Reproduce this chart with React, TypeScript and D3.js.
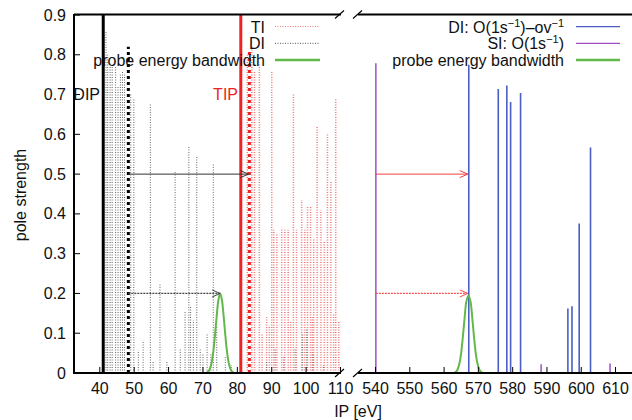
import React, { useEffect, useRef } from 'react';
import * as d3 from 'd3';

// low IP window: double (DI) and triple (TI) ionisation lines, [IP eV, pole strength]
const diSticks: [number, number][] = [
  [41.8, 0.86], [42.3, 0.8], [43.0, 0.77], [43.6, 0.77], [44.6, 0.77], [45.3, 0.72],
  [46.0, 0.75], [46.6, 0.76], [47.2, 0.75], [49.0, 0.7], [49.9, 0.69], [51.2, 0.057],
  [52.6, 0.082], [54.7, 0.677], [55.5, 0.03], [57.5, 0.225], [59.5, 0.03], [61.9, 0.505],
  [63.4, 0.06], [64.8, 0.157], [65.9, 0.57], [66.4, 0.17], [67.2, 0.133], [68.2, 0.545],
  [69.2, 0.06], [70.0, 0.05], [71.2, 0.1], [72.3, 0.05], [73.0, 0.527], [74.0, 0.12],
  [76.5, 0.04], [78.2, 0.02], [88.5, 0.03], [91.0, 0.06], [93.5, 0.04], [96.8, 0.06],
  [99.0, 0.1], [100.2, 0.11], [102.0, 0.05], [105.0, 0.02],
];
const tiSticks: [number, number][] = [
  [82.9, 0.8], [84.2, 0.82], [85.0, 0.76], [86.4, 0.78], [87.2, 0.1], [88.5, 0.14],
  [89.3, 0.12], [90.0, 0.76], [90.6, 0.36], [91.5, 0.35], [92.9, 0.365], [93.8, 0.36],
  [94.8, 0.36], [95.5, 0.13], [96.3, 0.7], [97.2, 0.36], [98.7, 0.435], [99.6, 0.36],
  [100.4, 0.42], [101.3, 0.42], [101.8, 0.14], [102.2, 0.34], [103.2, 0.62], [104.3, 0.41],
  [105.3, 0.33], [106.2, 0.6], [107.2, 0.48], [108.0, 0.15], [108.6, 0.69], [109.5, 0.13],
  [110.5, 0.15],
];
const dipIP = 41.0;
const tipIP = 81.0;
const diOnset: [number, number] = [48.3, 0.82];
const tiOnset: [number, number] = [83.5, 0.81];
const probeLow: [number, number][] = [
  [71, 0.001], [71.5, 0.003], [72, 0.01], [72.5, 0.025], [73, 0.053], [73.5, 0.095],
  [74, 0.144], [74.5, 0.184], [75, 0.2], [75.5, 0.184], [76, 0.144], [76.5, 0.095],
  [77, 0.053], [77.5, 0.025], [78, 0.01], [78.5, 0.003], [79, 0.001],
];

// high IP window: core ionisation lines
const coreDiSticks: [number, number][] = [
  [567.2, 0.775], [575.8, 0.714], [578.3, 0.723], [579.4, 0.681], [582.3, 0.704],
  [596.1, 0.162], [597.3, 0.168], [599.4, 0.376], [602.7, 0.567],
];
const coreSiSticks: [number, number][] = [[540.1, 0.779], [588.3, 0.022], [608.4, 0.024]];
const probeHigh: [number, number][] = [
  [563, 0.001], [563.5, 0.003], [564, 0.01], [564.5, 0.025], [565, 0.052], [565.5, 0.093],
  [566, 0.14], [566.5, 0.18], [567.1, 0.195], [567.7, 0.18], [568.2, 0.14], [568.7, 0.093],
  [569.2, 0.052], [569.7, 0.025], [570.2, 0.01], [570.7, 0.003], [571.2, 0.001],
];

const leftTicks = [40, 50, 60, 70, 80, 90, 100, 110];
const rightTicks = [540, 550, 560, 570, 580, 590, 600, 610];
const yTicks = [0, 0.1, 0.2, 0.3, 0.4, 0.5, 0.6, 0.7, 0.8, 0.9];

const GREEN = '#62b94a';
const RED = '#ee2222';
const BLUE = '#4a5ec4';
const PURPLE = '#a04fc4';

export default function App() {
  const svgRef = useRef<SVGSVGElement>(null);

  useEffect(() => {
    const svg = d3.select(svgRef.current);
    svg.selectAll('*').remove();
    const font = 'Liberation Sans, Arial, sans-serif';

    const xL = d3.scaleLinear().domain([32.5, 111.3]).range([74, 345]);
    const xR = d3.scaleLinear().domain([534.6, 614.8]).range([357, 632]);
    const y = d3.scaleLinear().domain([0, 0.9]).range([373, 15]);

    const defs = svg.append('defs');
    defs.append('clipPath').attr('id', 'clipL')
      .append('rect').attr('x', 75).attr('y', 0).attr('width', 266).attr('height', 373);
    defs.append('clipPath').attr('id', 'clipR')
      .append('rect').attr('x', 358).attr('y', 0).attr('width', 274).attr('height', 373);

    const left = svg.append('g').attr('clip-path', 'url(#clipL)');
    const right = svg.append('g').attr('clip-path', 'url(#clipR)');

    // sticks
    left.selectAll('.ti').data(tiSticks).enter().append('line')
      .attr('x1', d => xL(d[0])).attr('x2', d => xL(d[0]))
      .attr('y1', y(0)).attr('y2', d => y(d[1]))
      .attr('stroke', '#f07a7a').attr('stroke-width', 1.5).attr('stroke-dasharray', '1 1.5');
    left.selectAll('.di').data(diSticks).enter().append('line')
      .attr('x1', d => xL(d[0])).attr('x2', d => xL(d[0]))
      .attr('y1', y(0)).attr('y2', d => y(d[1]))
      .attr('stroke', '#666').attr('stroke-width', 1).attr('stroke-dasharray', '1 1.5');

    // ionisation potentials
    left.append('line').attr('x1', xL(dipIP)).attr('x2', xL(dipIP)).attr('y1', y(0)).attr('y2', y(0.9))
      .attr('stroke', '#000').attr('stroke-width', 3);
    left.append('line').attr('x1', xL(tipIP)).attr('x2', xL(tipIP)).attr('y1', y(0)).attr('y2', y(0.9))
      .attr('stroke', RED).attr('stroke-width', 3);
    left.append('line').attr('x1', xL(diOnset[0])).attr('x2', xL(diOnset[0]))
      .attr('y1', y(0)).attr('y2', y(diOnset[1]))
      .attr('stroke', '#000').attr('stroke-width', 3).attr('stroke-dasharray', '3 3');
    left.append('line').attr('x1', xL(tiOnset[0])).attr('x2', xL(tiOnset[0]))
      .attr('y1', y(0)).attr('y2', y(tiOnset[1]))
      .attr('stroke', RED).attr('stroke-width', 3).attr('stroke-dasharray', '3 3');

    right.selectAll('.si').data(coreSiSticks).enter().append('line')
      .attr('x1', d => xR(d[0])).attr('x2', d => xR(d[0]))
      .attr('y1', y(0)).attr('y2', d => y(d[1]))
      .attr('stroke', PURPLE).attr('stroke-width', 1.5);
    right.selectAll('.cdi').data(coreDiSticks).enter().append('line')
      .attr('x1', d => xR(d[0])).attr('x2', d => xR(d[0]))
      .attr('y1', y(0)).attr('y2', d => y(d[1]))
      .attr('stroke', BLUE).attr('stroke-width', 1.6);

    // probe bandwidth
    const curveL = d3.line<[number, number]>().x(d => xL(d[0])).y(d => y(d[1])).curve(d3.curveCatmullRom);
    const curveR = d3.line<[number, number]>().x(d => xR(d[0])).y(d => y(d[1])).curve(d3.curveCatmullRom);
    left.append('path').attr('d', curveL(probeLow)).attr('fill', 'none').attr('stroke', GREEN).attr('stroke-width', 2);
    right.append('path').attr('d', curveR(probeHigh)).attr('fill', 'none').attr('stroke', GREEN).attr('stroke-width', 2);

    // arrows
    const arrow = (g: any, x1: number, x2: number, yy: number, color: string, dashed: boolean) => {
      g.append('line').attr('x1', x1).attr('x2', x2).attr('y1', yy).attr('y2', yy)
        .attr('stroke', color).attr('stroke-width', dashed ? 1.3 : 1)
        .attr('stroke-dasharray', dashed ? '2 1' : null);
      g.append('polyline')
        .attr('points', `${x2 - 8},${yy - 3.5} ${x2},${yy} ${x2 - 8},${yy + 3.5}`)
        .attr('fill', 'none').attr('stroke', color).attr('stroke-width', 1);
    };
    arrow(svg, xL(diOnset[0]), xL(tiOnset[0]) - 1, y(0.5), '#333', false);
    arrow(svg, xL(diOnset[0]), xL(75), y(0.2), '#444', true);
    arrow(svg, xR(540.1), xR(567.2) - 1, y(0.5), '#f04040', false);
    arrow(svg, xR(540.1), xR(567.2) - 1, y(0.2), '#f45050', true);

    // frame
    const frame = svg.append('g').attr('stroke', '#000').attr('stroke-width', 2).attr('fill', 'none');
    frame.append('line').attr('x1', 74).attr('x2', 74).attr('y1', 14).attr('y2', 374);
    [14.5, 373].forEach(yy => {
      frame.append('line').attr('x1', 74).attr('x2', 341).attr('y1', yy).attr('y2', yy);
      frame.append('line').attr('x1', 358).attr('x2', 632).attr('y1', yy).attr('y2', yy);
      frame.append('line').attr('x1', 335).attr('x2', 344).attr('y1', yy + 4).attr('y2', yy - 4).attr('stroke-width', 1.2);
      frame.append('line').attr('x1', 353).attr('x2', 362).attr('y1', yy + 4).attr('y2', yy - 4).attr('stroke-width', 1.2);
    });

    const ticks = svg.append('g').attr('stroke', '#000').attr('stroke-width', 1);
    yTicks.forEach(t => {
      ticks.append('line').attr('x1', 74).attr('x2', 80).attr('y1', y(t)).attr('y2', y(t));
    });
    leftTicks.forEach(t => {
      ticks.append('line').attr('x1', xL(t)).attr('x2', xL(t)).attr('y1', 373).attr('y2', 367);
    });
    rightTicks.forEach(t => {
      ticks.append('line').attr('x1', xR(t)).attr('x2', xR(t)).attr('y1', 373).attr('y2', 367);
    });

    const text = svg.append('g').attr('font-family', font).attr('font-size', 16).attr('fill', '#111');
    yTicks.forEach(t => {
      text.append('text').attr('x', 66).attr('y', y(t) + 5.5).attr('text-anchor', 'end')
        .text(t === 0 ? '0' : t.toFixed(1));
    });
    leftTicks.forEach(t => {
      text.append('text').attr('x', xL(t)).attr('y', 394).attr('text-anchor', 'middle').text(t);
    });
    rightTicks.forEach(t => {
      text.append('text').attr('x', xR(t)).attr('y', 394).attr('text-anchor', 'middle').text(t);
    });
    text.append('text').attr('x', 358).attr('y', 417).attr('text-anchor', 'middle').text('IP [eV]');
    text.append('text').attr('transform', 'translate(26,195) rotate(-90)')
      .attr('text-anchor', 'middle').text('pole strength');
    text.append('text').attr('x', 100).attr('y', 99.5).attr('text-anchor', 'end').text('DIP');
    text.append('text').attr('x', 238).attr('y', 99.5).attr('text-anchor', 'end')
      .attr('fill', RED).text('TIP');

    // legends
    const legL = [
      { label: 'TI', color: '#f07a7a', width: 1, dash: '1 1.5' },
      { label: 'DI', color: '#555', width: 1, dash: '1 1.5' },
      { label: 'probe energy bandwidth', color: GREEN, width: 2.5, dash: null },
    ];
    legL.forEach((d, i) => {
      const yy = 26.5 + i * 16.8;
      text.append('text').attr('x', 265).attr('y', yy + 6).attr('text-anchor', 'end').text(d.label);
      svg.append('line').attr('x1', 275).attr('x2', 320).attr('y1', yy).attr('y2', yy)
        .attr('stroke', d.color).attr('stroke-width', d.width).attr('stroke-dasharray', d.dash);
    });

    const legR = [
      { parts: [['DI: O(1s', 0], ['\u22121', 1], [')\u2013ov', -1], ['\u22121', 1]], color: BLUE },
      { parts: [['SI: O(1s', 0], ['\u22121', 1], [')', -1]], color: PURPLE },
      { parts: [['probe energy bandwidth', 0]], color: GREEN },
    ];
    legR.forEach((d, i) => {
      const yy = 26.7 + i * 16.7;
      const t = text.append('text').attr('x', 564).attr('y', yy + 6).attr('text-anchor', 'end');
      d.parts.forEach(([s, sh]) => {
        const sp = t.append('tspan').text(s as string);
        if (sh === 1) sp.attr('dy', -6).attr('font-size', 11);
        if (sh === -1) sp.attr('dy', 6);
      });
      svg.append('line').attr('x1', 576).attr('x2', 620).attr('y1', yy).attr('y2', yy)
        .attr('stroke', d.color).attr('stroke-width', i === 2 ? 2.5 : 1.2);
    });
  }, []);

  return (
    <svg ref={svgRef} width={632} height={420}
      style={{ position: 'absolute', left: 0, top: 0, background: '#fff' }} />
  );
}
